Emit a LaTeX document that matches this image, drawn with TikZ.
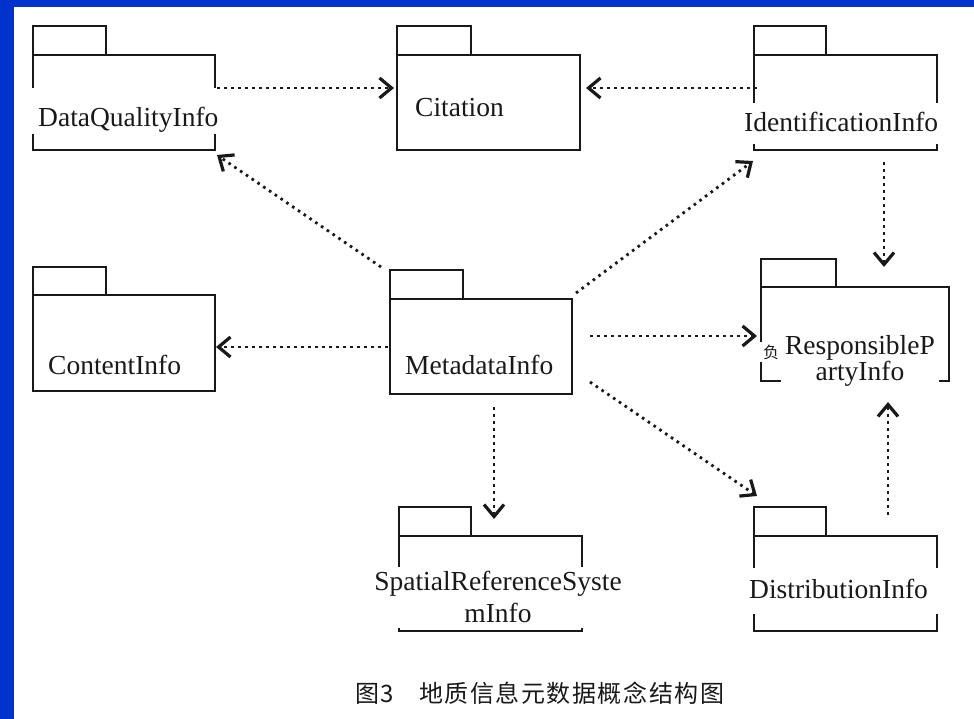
\documentclass[tikz,border=0pt]{standalone}
\usepackage{fontspec}
\setmainfont{Liberation Serif}
\newfontfamily\cjk{Noto Sans CJK SC}
\newfontfamily\cjkcap[LetterSpace=6.5]{Noto Sans CJK SC}
\usetikzlibrary{arrows.meta,fit}
\definecolor{bgblue}{RGB}{0,51,204}
\definecolor{ink}{RGB}{25,25,25}
\newcommand\umlpkg[7]{% name, x1, ytab, xtab, ytop, x2, ybot
  \draw[pkgline] (#2,#3) rectangle (#4,#5);
  \coordinate (#1-nw) at (#2,#5);
  \coordinate (#1-se) at (#6,#7);
  \node[pkgbody, fit=(#1-nw)(#1-se)] (#1) {};
}
\begin{document}
\begin{tikzpicture}[x=1pt,y=-1pt,
  pkgline/.style={draw=ink,line width=2pt},
  pkgbody/.style={draw=ink,line width=2pt,inner sep=0pt,outer sep=0pt},
  mask/.style={fill=white},
  lbl/.style={inner sep=0pt,font=\fontsize{27.5}{33}\selectfont,text=ink},
  dep/.style={draw=ink,line width=2.8pt,dash pattern=on 2.6pt off 4.4pt,
    -{Straight Barb[length=12pt,width=20pt,line width=3.2pt]}},
]
\fill[bgblue] (0,0) rectangle (974,719);
\fill[white] (14,7) rectangle (974,719);
\useasboundingbox (0,0) rectangle (974,719);

% packages
\umlpkg{dq}{33}{26}{106}{55}{215}{150}
\umlpkg{cit}{397}{26}{471}{55}{580}{150}
\umlpkg{idf}{754}{26}{826}{55}{937}{150}
\umlpkg{con}{33}{267}{106}{295}{215}{391}
\umlpkg{meta}{390}{270}{463}{299}{572}{394}
\umlpkg{resp}{761}{259}{836}{287}{949}{381}
\umlpkg{spat}{399}{507}{471}{536}{582}{631}
\umlpkg{dist}{754}{507}{826}{536}{937}{631}

% white masks where the labels cross the outlines
\fill[mask] (30,88) rectangle (226,134);
\fill[mask] (740,103) rectangle (941,144);
\fill[mask] (781,330) rectangle (939,388);
\fill[mask] (758,342) rectangle (782,362);
\fill[mask] (369,567) rectangle (627,628);
\fill[mask] (745,568) rectangle (941,614);

% labels
\node[lbl,anchor=base west] (dqT) at (38,127) {DataQualityInfo};
\node[lbl,anchor=base west] (citT) at (415,117) {Citation};
\node[lbl,anchor=base west] (idfT) at (744,132) {IdentificationInfo};
\node[lbl,anchor=base west] (conT) at (48,374) {ContentInfo};
\node[lbl,anchor=base west] (metaT) at (405,374) {MetadataInfo};
\node[lbl,anchor=north,align=center,font=\fontsize{27.5}{24}\selectfont] (respT) at (860,335) {ResponsibleP\\artyInfo};
\node[inner sep=0pt,text=ink,font=\cjk\fontsize{16}{16}\selectfont] (respC) at (771,352) {负};
\node[lbl,anchor=north,align=center,font=\fontsize{27.5}{32}\selectfont] (spatT) at (498,571) {SpatialReferenceSyste\\mInfo};
\node[lbl,anchor=base west] (distT) at (749,598) {DistributionInfo};

% caption
\node[anchor=base west,inner sep=0pt,text=ink,font=\cjkcap\fontsize{24}{24}\selectfont] (cap) at (355,702) {图3\hspace{25pt}地质信息元数据概念结构图};

% connectors
\coordinate (a1s) at (217,88);  \coordinate (a1e) at (394,88);
\coordinate (a2s) at (757,88);  \coordinate (a2e) at (586,88);
\coordinate (a3s) at (381,267); \coordinate (a3e) at (217,155);
\coordinate (a4s) at (388,347); \coordinate (a4e) at (216,347);
\coordinate (a5s) at (576,293); \coordinate (a5e) at (753,161);
\coordinate (a6s) at (884,162); \coordinate (a6e) at (884,267);
\coordinate (a7s) at (590,336); \coordinate (a7e) at (757,336);
\coordinate (a8s) at (494,407); \coordinate (a8e) at (494,519);
\coordinate (a9s) at (590,382); \coordinate (a9e) at (757,496);
\coordinate (a10s) at (888,515); \coordinate (a10e) at (888,402);
\draw[dep] (a1s) -- (a1e);
\draw[dep] (a2s) -- (a2e);
\draw[dep] (a3s) -- (a3e);
\draw[dep] (a4s) -- (a4e);
\draw[dep] (a5s) -- (a5e);
\draw[dep] (a6s) -- (a6e);
\draw[dep] (a7s) -- (a7e);
\draw[dep] (a8s) -- (a8e);
\draw[dep] (a9s) -- (a9e);
\draw[dep] (a10s) -- (a10e);
\end{tikzpicture}
\end{document}
